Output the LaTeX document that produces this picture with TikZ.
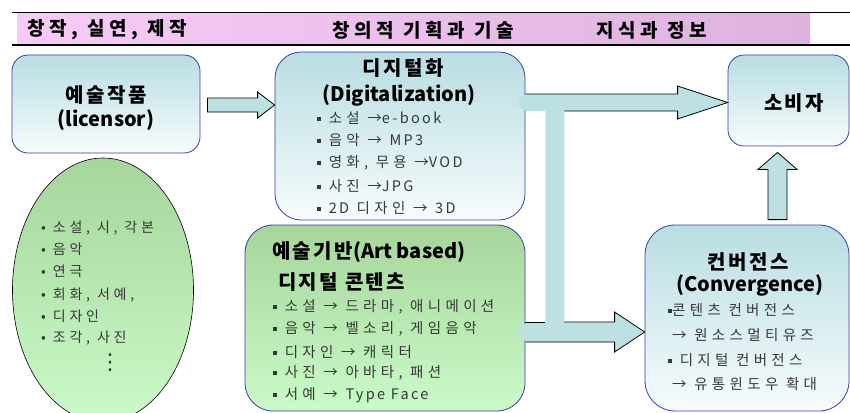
\documentclass[tikz,border=0pt]{standalone}
\usepackage{fontspec}
\setmainfont{Noto Sans CJK KR}
\newfontfamily\ko[LetterSpace=12]{Noto Sans CJK KR}
\newfontfamily\kohdr[LetterSpace=25]{Noto Sans CJK KR}
\newfontfamily\koitem[LetterSpace=30]{Noto Sans CJK KR}
\newfontfamily\koell[LetterSpace=27]{Noto Sans CJK KR}
\newfontfamily\latitem[LetterSpace=16]{Noto Sans CJK KR}
\newfontfamily\symfont{DejaVu Sans}
\usetikzlibrary{shapes.geometric,calc}

\definecolor{hdrL}{RGB}{248,202,248}
\definecolor{hdrR}{RGB}{222,178,222}
\definecolor{boxblue}{RGB}{184,221,226}
\definecolor{boxwhite}{RGB}{247,252,253}
\definecolor{edgeblue}{RGB}{60,60,170}
\definecolor{greenT}{RGB}{166,213,156}
\definecolor{greenB}{RGB}{202,250,200}
\definecolor{arrowfill}{RGB}{189,224,227}
\definecolor{itemgray}{RGB}{55,55,55}

\newcommand{\sqb}{\raisebox{2.5pt}{\rule{4pt}{4pt}}}
\newcommand{\lt}[1]{{\latitem #1}}

\tikzset{
  bluebox/.style={draw=edgeblue, line width=0.8pt, rounded corners=#1,
    top color=boxblue, bottom color=boxwhite, inner sep=0pt},
  greenbox/.style={draw=edgeblue, line width=0.8pt, rounded corners=#1,
    top color=greenT, bottom color=greenB, inner sep=0pt},
  blockarrow/.style={fill=arrowfill, draw=black, line width=0.8pt, line join=miter},
  blockline/.style={draw=black, line width=0.8pt, line join=miter},
  hdr/.style={anchor=west, inner sep=0pt, font=\kohdr\bfseries\fontsize{19}{19}\selectfont},
  ttl/.style={inner sep=0pt, font=\bfseries\fontsize{20}{20}\selectfont},
  item/.style={anchor=west, inner sep=0pt, text=itemgray, font=\koitem\fontsize{14.5}{14.5}\selectfont},
  ellitem/.style={anchor=west, inner sep=0pt, text=itemgray, font=\koell\fontsize{14}{14}\selectfont},
}

\begin{document}
\begin{tikzpicture}[x=1pt, y=-1pt]
\useasboundingbox (0,0) rectangle (850,412);

% title band
\shade[left color=hdrL, right color=hdrR] (17,14) rectangle (810,44);
\draw[line width=1pt] (12,13) -- (850,13);
\draw[line width=1.2pt] (12,45) -- (850,45);
\node[hdr] (h1) at (27,30) {창작, 실연, 제작};
\node[hdr] (h2) at (332,30) {창의적 기획과 기술};
\node[hdr] (h3) at (596,30) {지식과 정보};

% boxes
\node[bluebox=16, minimum width=188, minimum height=98] (art) at (106,104) {};
\node[bluebox=26, minimum width=250, minimum height=168] (dig) at (400,136) {};
\node[greenbox=28, minimum width=280, minimum height=186] (base) at (385,318) {};
\node[bluebox=16, minimum width=121, minimum height=91] (cons) at (788.5,100.5) {};
\node[bluebox=30, minimum width=204, minimum height=186] (conv) at (747,318) {};
\node[ellipse, draw=black, line width=0.6pt, top color=greenT, bottom color=greenB,
      minimum width=181, minimum height=264, inner sep=0pt] (ell) at (103,290) {};

% block arrow from the work to digitalization
\coordinate (aS) at ($(art.east)+(7,1)$);
\coordinate (aT) at (dig.west |- aS);
\filldraw[blockarrow] ($(aS)+(0,-7)$) -- ($(aT)+(-17,-7)$) -- ($(aT)+(-17,-13)$) -- (aT)
  -- ($(aT)+(-17,13)$) -- ($(aT)+(-17,7)$) -- ($(aS)+(0,7)$) -- cycle;

% joined block arrows to the consumer and to convergence
\coordinate (uT) at ($(cons.west)+(0,2)$);
\coordinate (uS) at (dig.east |- uT);
\coordinate (lT) at ($(conv.west)+(0,14)$);
\coordinate (lS) at (base.east |- lT);
\coordinate (vX) at ($(uS)+(29.5,0)$);
\fill[arrowfill] ($(uS)+(0,-8.5)$) -- ($(uT)+(-50,-8.5)$) -- ($(uT)+(-50,-16.5)$) -- (uT)
  -- ($(uT)+(-50,16.5)$) -- ($(uT)+(-50,8.5)$) -- ($(vX)+(9.5,8.5)$)
  -- ($(vX |- lT)+(9.5,-10)$) -- ($(lT)+(-30,-10)$) -- ($(lT)+(-30,-20)$) -- (lT)
  -- ($(lT)+(-30,20)$) -- ($(lT)+(-30,10)$) -- ($(lS)+(0,10)$) -- ($(lS)+(0,-10)$)
  -- ($(vX |- lT)+(-9.5,-10)$) -- ($(vX)+(-9.5,8.5)$) -- ($(uS)+(0,8.5)$) -- cycle;
\fill[arrowfill] ($(uS)+(-1,0)$) ellipse (6 and 7.5);
\fill[arrowfill] ($(lS)+(-1,0)$) ellipse (6 and 8);
\draw[blockline] ($(uS)+(0,-8.5)$) -- ($(uT)+(-50,-8.5)$) -- ($(uT)+(-50,-16.5)$) -- (uT)
  -- ($(uT)+(-50,16.5)$) -- ($(uT)+(-50,8.5)$) -- ($(vX)+(9.5,8.5)$);
\draw[blockline] ($(lS)+(0,-10)$) -- ($(vX |- lT)+(-9.5,-10)$);
\draw[blockline] ($(vX |- lT)+(9.5,-10)$) -- ($(lT)+(-30,-10)$) -- ($(lT)+(-30,-20)$) -- (lT)
  -- ($(lT)+(-30,20)$) -- ($(lT)+(-30,10)$) -- ($(lS)+(0,10)$);

% upward block arrow from convergence to the consumer
\coordinate (vS) at ($(conv.north)+(30.5,-5)$);
\coordinate (vT) at ($(vS |- cons.south)+(0,6)$);
\filldraw[blockarrow] ($(vS)+(-9.5,0)$) -- ($(vT)+(-9.5,17)$) -- ($(vT)+(-19.5,17)$) -- (vT)
  -- ($(vT)+(19.5,17)$) -- ($(vT)+(9.5,17)$) -- ($(vS)+(9.5,0)$) -- cycle;

% texts: the work
\node[ttl] (artK) at (106,95) {\ko 예술작품};
\node[ttl] (artL) at (106,120) {(licensor)};

% texts: genres
\node[ellitem] (e1) at (41,228) {• 소설, 시, 각본};
\node[ellitem] (e2) at (41,249) {• 음악};
\node[ellitem] (e3) at (41,271) {• 연극};
\node[ellitem] (e4) at (41,295) {• 회화, 서예,};
\node[ellitem] (e5) at (41,316) {• 디자인};
\node[ellitem] (e6) at (41,338) {• 조각, 사진};
\node[inner sep=0pt, text=itemgray, font=\symfont\fontsize{22}{22}\selectfont] (e7) at (110,363) {⋮};

% texts: digitalization
\node[ttl] (digK) at (403,68) {\ko 디지털화};
\node[ttl] (digL) at (399,95) {(Digitalization)};
\node[item] (d1) at (317,118) {\sqb\ 소설 →\lt{e-book}};
\node[item] (d2) at (317,140) {\sqb\ 음악 → \lt{MP3}};
\node[item] (d3) at (317,163) {\sqb\ 영화, 무용 →\lt{VOD}};
\node[item] (d4) at (317,186) {\sqb\ 사진 →\lt{JPG}};
\node[item] (d5) at (317,208) {\sqb\ \lt{2D} 디자인 → \lt{3D}};

% texts: art based digital contents
\node[ttl, anchor=west] (baseK) at (272,252) {{\ko 예술기반}(Art based)};
\node[ttl, anchor=west] (baseL) at (278,282) {\ko 디지털 콘텐츠};
\node[item] (b1) at (273,307) {\sqb\ 소설 → 드라마, 애니메이션};
\node[item] (b2) at (273,329) {\sqb\ 음악 → 벨소리, 게임음악};
\node[item] (b3) at (273,352) {\sqb\ 디자인 → 캐릭터};
\node[item] (b4) at (273,373) {\sqb\ 사진 → 아바타, 패션};
\node[item] (b5) at (273,395) {\sqb\ 서예 → \lt{Type Face}};

% texts: consumer
\node[ttl] (consK) at (794,103) {\ko 소비자};

% texts: convergence
\node[ttl] (convK) at (748,262) {\ko 컨버전스};
\node[ttl] (convL) at (750,285) {(Convergence)};
\node[item] (c1) at (668,310) {\sqb 콘텐츠 컨버전스};
\node[item] (c2) at (672,335) {→ 원소스멀티유즈};
\node[item] (c3) at (668,360) {\sqb\ 디지털 컨버전스};
\node[item] (c4) at (672,384) {→ 유통윈도우 확대};
\end{tikzpicture}
\end{document}
